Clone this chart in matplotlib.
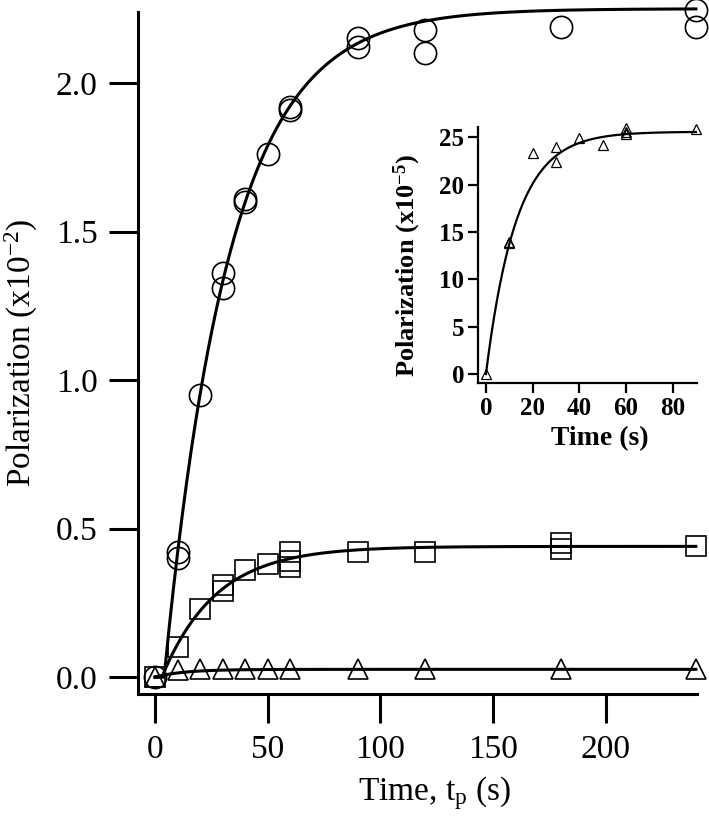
import numpy as np
import matplotlib.pyplot as plt

plt.rcParams['font.family'] = 'Liberation Serif'
plt.rcParams['mathtext.fontset'] = 'custom'
plt.rcParams['mathtext.rm'] = 'Liberation Serif'
plt.rcParams['mathtext.it'] = 'Liberation Serif:italic'
plt.rcParams['mathtext.bf'] = 'Liberation Serif:bold'

# main panel data (x10^-2)
t_circ = [0, 10, 10, 20, 30, 30, 40, 40, 50, 60, 60, 90, 90, 120, 120, 180, 240, 240]
p_circ = [0.0, 0.42, 0.40, 0.95, 1.36, 1.31, 1.61, 1.60, 1.76, 1.92, 1.91, 2.15, 2.12, 2.18, 2.10, 2.19, 2.245, 2.19]

t_sq = [0, 10, 20, 30, 30, 40, 50, 60, 60, 60, 90, 120, 180, 180, 240]
p_sq = [0.0, 0.10, 0.23, 0.31, 0.29, 0.36, 0.38, 0.42, 0.39, 0.37, 0.42, 0.42, 0.45, 0.43, 0.44]

t_tri = [0, 10, 20, 30, 40, 50, 60, 90, 120, 180, 240]
p_tri = [0.0, 0.025, 0.026, 0.026, 0.026, 0.026, 0.026, 0.026, 0.026, 0.026, 0.026]

# inset data (x10^-5)
t_in = [0, 10, 10, 20, 30, 30, 40, 50, 60, 60, 60, 90]
p_in = [0.0, 14.0, 13.8, 23.3, 24.0, 22.4, 24.9, 24.2, 26.0, 25.6, 25.4, 25.9]

# fitted build-up curves: amplitude, time constant, delay
fit_circ = (2.25, 29.0, 4.0)
fit_sq = (0.44, 24.0, 3.0)
fit_tri = (0.026, 13.0, 0.0)
fit_in = (25.6, 13.0, 0.0)


def buildup(t, p):
    a, tau, t0 = p
    return a * (1 - np.exp(-np.clip(t - t0, 0, None) / tau))


fig = plt.figure(figsize=(7.09, 8.24), dpi=100)

ax = fig.add_axes([138/709, 1-694/824, (697-138)/709, (694-12)/824])
tt = np.linspace(0, 240, 500)
for p in (fit_circ, fit_sq, fit_tri):
    ax.plot(tt, buildup(tt, p), color='black', lw=2.2, zorder=3, clip_on=False)

mk = dict(ls='none', mfc='none', mec='black', mew=1.2, clip_on=False, zorder=4)
ax.plot(t_circ, p_circ, marker='o', ms=16, **mk)
ax.plot(t_sq, p_sq, marker='s', ms=15, **mk)
ax.plot(t_tri, p_tri, marker='^', ms=14, **mk)

ax.set_xlim(-7.6, 240.5)
ax.set_ylim(-0.057, 2.239)
ax.set_xticks([0, 50, 100, 150, 200])
ax.set_yticks([0.0, 0.5, 1.0, 1.5, 2.0])
ax.set_yticklabels(['0.0', '0.5', '1.0', '1.5', '2.0'])
for s in ('top', 'right'):
    ax.spines[s].set_visible(False)
for s in ('left', 'bottom'):
    ax.spines[s].set_linewidth(2.2)
ax.tick_params(direction='out', length=21, width=2.2, labelsize=24, pad=8)
ax.set_xlabel('Time, t$_\\mathrm{p}$ (s)', fontsize=24, va='top')
ax.set_ylabel('Polarization (x10$^{-2}$)', fontsize=24)
ax.xaxis.set_label_coords(0.53, -0.118)
ax.yaxis.set_label_coords(-0.176, 0.5)

# inset
ins = fig.add_axes([478/709, 1-383/824, (697-478)/709, (383-127)/824])
ti = np.linspace(0, 90, 300)
ins.plot(ti, buildup(ti, fit_in), color='black', lw=1.6, zorder=3)
ins.plot(t_in, p_in, ls='none', marker='^', ms=7, mfc='none', mec='black', mew=0.9,
         clip_on=False, zorder=4)
ins.set_xlim(-3.4, 90.4)
ins.set_ylim(-0.95, 26.1)
ins.set_xticks([0, 20, 40, 60, 80])
ins.set_yticks([0, 5, 10, 15, 20, 25])
for s in ('top', 'right'):
    ins.spines[s].set_visible(False)
for s in ('left', 'bottom'):
    ins.spines[s].set_linewidth(1.6)
ins.tick_params(direction='out', length=7, width=1.6, labelsize=18, pad=3)
for lab in ins.get_xticklabels() + ins.get_yticklabels():
    lab.set_fontweight('bold')
ins.set_xlabel('Time (s)', fontsize=20, fontweight='bold', va='top')
ins.set_ylabel('Polarization (x10$^{\\mathbf{-5}}$)', fontsize=19, fontweight='bold')
ins.xaxis.set_label_coords(0.555, -0.17)
ins.yaxis.set_label_coords(-0.25, 0.46)

fig.savefig('out.png', dpi=100)
